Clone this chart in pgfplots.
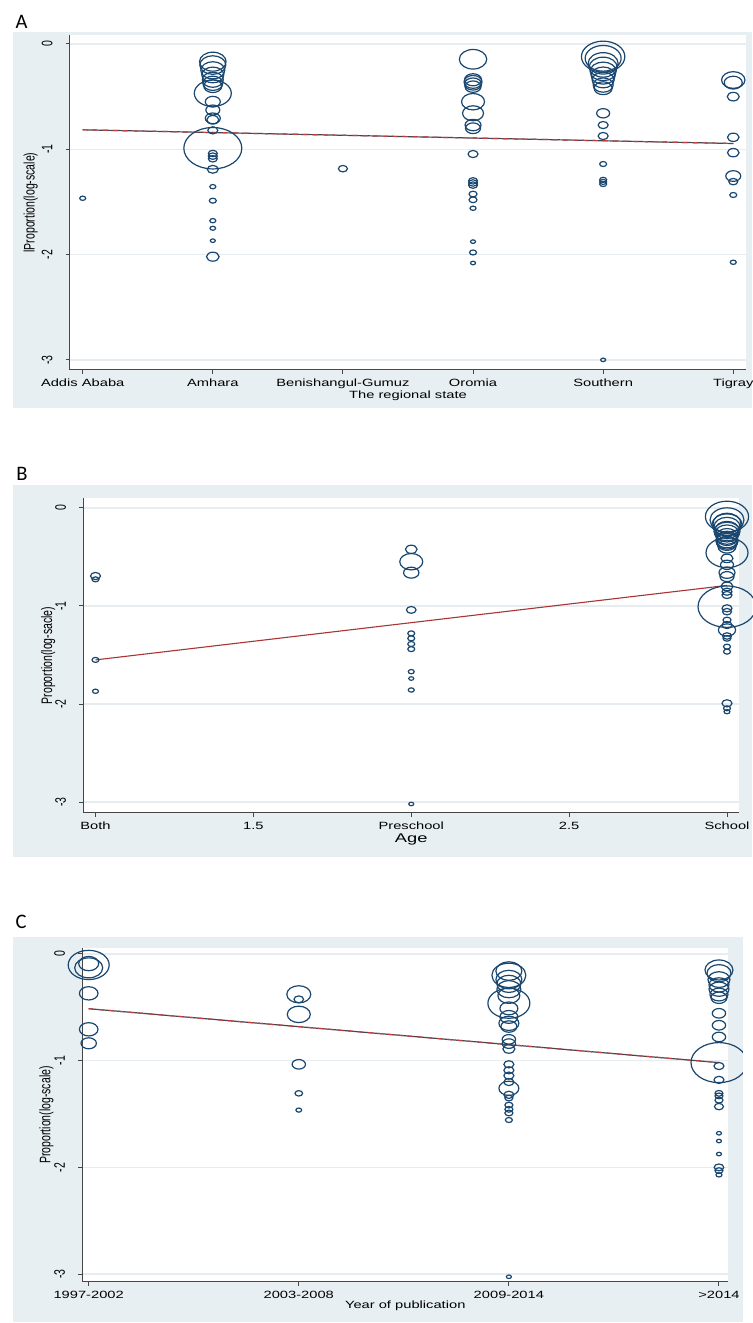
\documentclass[border=0pt]{standalone}
\usepackage{fontspec}
\setmainfont{Liberation Sans}
\newfontfamily\calib{Carlito}
\usepackage{pgfplots}
\usepackage{pgfplotstable}
\pgfplotsset{compat=1.18}
\definecolor{stnavy}{RGB}{26,71,111}
\definecolor{bgc}{RGB}{232,239,243}
\definecolor{gridc}{RGB}{230,236,240}
\definecolor{axisc}{RGB}{70,70,70}
\definecolor{fitred}{RGB}{200,60,60}
\definecolor{fitdark}{RGB}{70,70,80}

\pgfplotstableread{
x y r
0 -1.465 3
1 -0.168 13.3
1 -0.20 13
1 -0.25 12
1 -0.294 11
1 -0.34 10.5
1 -0.373 10
1 -0.40 9
1 -0.468 18.5
1 -0.548 7.5
1 -0.627 7
1 -0.706 7.5
1 -0.72 6
1 -0.82 5
1 -0.99 29
1 -1.04 4.5
1 -1.065 4.5
1 -1.09 4.5
1 -1.19 5.5
1 -1.355 3
1 -1.488 3.5
1 -1.678 3
1 -1.75 2.8
1 -1.868 2.5
1 -2.02 6.3
2 -1.184 4.5
3 -0.145 13.7
3 -0.34 8.5
3 -0.36 9
3 -0.38 8.5
3 -0.405 8
3 -0.548 11.5
3 -0.658 10.5
3 -0.77 8
3 -0.80 7.5
3 -1.045 5
3 -1.30 4.5
3 -1.32 4.5
3 -1.34 4.5
3 -1.425 4
3 -1.48 4
3 -1.56 3
3 -1.877 2.5
3 -1.98 3.5
3 -2.08 2.5
4 -0.12 21.7
4 -0.136 18
4 -0.184 15
4 -0.22 14
4 -0.26 13
4 -0.30 12
4 -0.342 11
4 -0.39 10
4 -0.42 9
4 -0.658 6.5
4 -0.77 5
4 -0.874 5
4 -1.14 3.5
4 -1.29 3.5
4 -1.31 3.5
4 -1.33 3.5
4 -3.0 2.5
5 -0.342 11.7
5 -0.367 9
5 -0.50 6
5 -0.886 5.8
5 -1.032 5.8
5 -1.254 7.5
5 -1.307 4.5
5 -1.434 3.5
5 -2.073 3
}\dataA

\pgfplotstableread{
x y r
1 -0.694 5
1 -0.728 3.5
1 -1.55 3.5
1 -1.87 3
2 -0.422 5.8
2 -0.548 11.5
2 -0.66 7.7
2 -1.04 4.8
2 -1.279 3.5
2 -1.33 3.5
2 -1.388 3.5
2 -1.44 3.5
2 -1.67 3
2 -1.74 2.5
2 -1.857 3
2 -3.02 2.5
3 -0.088 21.6
3 -0.122 17
3 -0.156 14
3 -0.17 15
3 -0.19 13
3 -0.224 12
3 -0.24 13
3 -0.26 12
3 -0.29 11
3 -0.31 10
3 -0.327 11
3 -0.34 11
3 -0.36 10
3 -0.395 9
3 -0.456 21
3 -0.514 6
3 -0.58 6.5
3 -0.66 8
3 -0.70 7
3 -0.80 6
3 -0.854 5
3 -0.888 5
3 -1.007 29
3 -1.024 5
3 -1.058 4.5
3 -1.143 4
3 -1.194 5
3 -1.245 8.6
3 -1.306 4.5
3 -1.33 4
3 -1.415 3.5
3 -1.466 3.5
3 -1.993 5
3 -2.044 3.5
3 -2.078 3
}\dataB

\pgfplotstableread{
x y r
0 -0.09 10
0 -0.103 20.5
0 -0.13 14
0 -0.369 9.3
0 -0.706 9.3
0 -0.837 7.7
1 -0.378 12
1 -0.425 4.8
1 -0.566 11.5
1 -1.034 6.7
1 -1.306 3.8
1 -1.463 2.9
2 -0.16 13
2 -0.20 17
2 -0.24 13
2 -0.28 12
2 -0.33 12
2 -0.39 11
2 -0.462 21
2 -0.51 9
2 -0.59 9
2 -0.65 10
2 -0.68 8
2 -0.80 6.7
2 -0.84 6.7
2 -0.89 6
2 -1.034 5
2 -1.09 5
2 -1.14 5
2 -1.20 5
2 -1.259 10
2 -1.32 5
2 -1.35 4
2 -1.416 4
2 -1.456 4
2 -1.49 4
2 -1.556 3.5
2 -3.025 2.5
3 -0.15 14
3 -0.18 12
3 -0.24 11
3 -0.29 10
3 -0.33 10
3 -0.38 9
3 -0.41 8
3 -0.556 6.7
3 -0.668 6.7
3 -0.778 6.7
3 -1.018 28
3 -1.05 5
3 -1.18 5
3 -1.306 4
3 -1.33 4
3 -1.37 4
3 -1.43 4.5
3 -1.68 2.5
3 -1.753 2.5
3 -1.875 2.5
3 -2.0 4.8
3 -2.03 4
3 -2.07 3
}\dataC

\pgfplotsset{
  stata/.style={
    scale only axis,
    anchor=south west,
    clip=false,
    axis x line*=bottom,
    axis y line*=left,
    axis line style={-, color=axisc, line width=0.5pt},
    tick align=outside,
    major tick length=2pt,
    tick style={color=axisc, line width=0.5pt},
    ymajorgrids,
    major grid style={color=gridc, line width=0.7pt},
    axis background/.style={fill=white},
    ytick={-3,-2,-1,0},
    yticklabels={-3,-2,-1,0},
    yticklabel style={font=\fontsize{5.25}{6}\selectfont, xscale=1.45, rotate=90, anchor=south, inner sep=0pt},
    yticklabel shift=6.5pt,
    xticklabel style={font=\fontsize{5.25}{6}\selectfont, xscale=1.4, inner sep=0pt, anchor=north},
    xticklabel shift=2.2pt,
    every axis y label/.style={at={(axis description cs:-0.058,0.5)}, anchor=center, font=\fontsize{5.25}{6}\selectfont, xscale=1.45, rotate=90},
    every axis x label/.style={at={(axis description cs:0.5,-0.078)}, anchor=center, font=\fontsize{5.25}{6}\selectfont, xscale=1.4},
  },
  bubble/.style={scatter, only marks, mark=o,
    scatter/use mapped color={draw=stnavy},
    mark options={xscale=1.4, line width=0.6pt},
    visualization depends on={0.357*\thisrow{r} \as \msz},
    scatter/@pre marker code/.append style={/tikz/mark size=\msz}},
}

\begin{document}
\begin{tikzpicture}
\useasboundingbox (0,0) rectangle (376pt,661.5pt);
% backgrounds
\fill[bgc] (6.5pt,457.5pt) rectangle (376pt,645.5pt);
\fill[bgc] (6.5pt,233pt) rectangle (376pt,419pt);
\fill[bgc] (6.5pt,0.5pt) rectangle (371.5pt,193pt);
\node[font=\calib\fontsize{10.3}{12}\selectfont] at (10.75pt,650.75pt) {A};
\node[font=\calib\fontsize{10.3}{12}\selectfont] at (11pt,424.5pt) {B};
\node[font=\calib\fontsize{10.3}{12}\selectfont] at (10.5pt,200.5pt) {C};

% Panel A
\begin{axis}[stata, at={(35pt,476.5pt)}, width=338pt, height=167.5pt,
  xmin=-0.0976, xmax=5.098, ymin=-3.096, ymax=0.0855,
  xtick={0,1,2,3,4,5},
  xticklabels={Addis Ababa,Amhara,Benishangul-Gumuz,Oromia,Southern,Tigray},
  xlabel={The regional state},
  ylabel={lProportion(log-scale)}]
\addplot[bubble] table[x=x,y=y] {\dataA};
\addplot[no marks, color=fitdark, line width=0.6pt] coordinates {(0,-0.815) (5,-0.945)};
\addplot[no marks, color=fitred, line width=0.6pt, dash pattern=on 2.5pt off 2.5pt] coordinates {(0,-0.815) (5,-0.945)};
\end{axis}

% Panel B
\begin{axis}[stata, at={(41.75pt,255pt)}, width=327.75pt, height=157.5pt,
  xmin=0.962, xmax=3.038, ymin=-3.112, ymax=0.102,
  xtick={1,1.5,2,2.5,3},
  xticklabels={Both,1.5,Preschool,2.5,School},
  xlabel={Age},
  every axis x label/.style={at={(axis description cs:0.5,-0.085)}, anchor=center, font=\fontsize{6.3}{7}\selectfont, xscale=1.45},
  every axis y label/.style={at={(axis description cs:-0.054,0.5)}, anchor=center, font=\fontsize{5.25}{6}\selectfont, xscale=1.45, rotate=90},
  ylabel={Proportion(log-sacle)}]
\addplot[bubble] table[x=x,y=y] {\dataB};
\addplot[no marks, color=fitred!85!black, line width=0.55pt] coordinates {(1,-1.55) (3,-0.79)};
\end{axis}

% Panel C
\begin{axis}[stata, at={(41.25pt,20.5pt)}, width=322.75pt, height=167pt,
  xmin=-0.0295, xmax=3.043, ymin=-3.074, ymax=0.056,
  xtick={0,1,2,3},
  xticklabels={1997-2002,2003-2008,2009-2014,>2014},
  xlabel={Year of publication},
  every axis x label/.style={at={(axis description cs:0.5,-0.072)}, anchor=center, font=\fontsize{5.25}{6}\selectfont, xscale=1.4},
  every axis y label/.style={at={(axis description cs:-0.056,0.5)}, anchor=center, font=\fontsize{5.25}{6}\selectfont, xscale=1.45, rotate=90},
  ylabel={Proportion(log-scale)}]
\addplot[bubble] table[x=x,y=y] {\dataC};
\addplot[no marks, color=fitdark, line width=0.6pt] coordinates {(0,-0.513) (3,-1.018)};
\addplot[no marks, color=fitred, line width=0.6pt, dash pattern=on 2.5pt off 2.5pt] coordinates {(0,-0.513) (3,-1.018)};
\end{axis}
\fill[white] (371.5pt,0pt) rectangle (376pt,196pt);
\end{tikzpicture}
\end{document}
